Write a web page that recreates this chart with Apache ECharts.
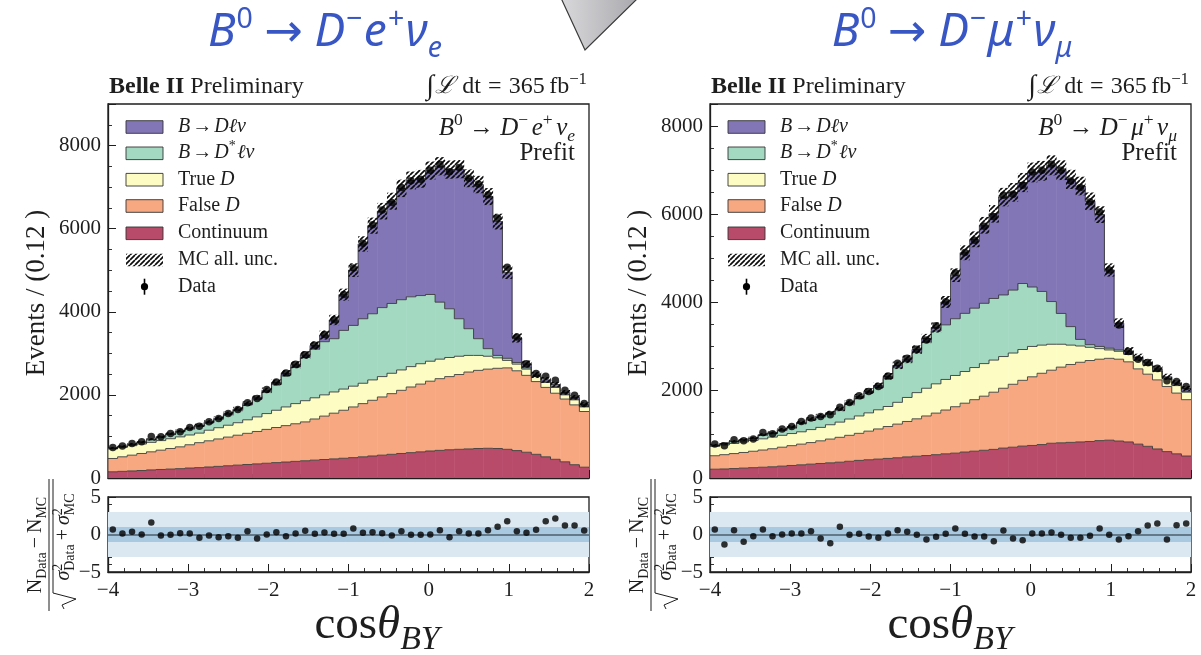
<!DOCTYPE html>
<html>
<head>
<meta charset="utf-8">
<script src="https://cdn.jsdelivr.net/npm/echarts@6/dist/echarts.min.js"></script>
<style>
  html, body { margin: 0; padding: 0; background: #fff; }
  #chart { width: 1201px; height: 655px; }
</style>
</head>
<body>
<div id="chart"></div>
<script>
// ---- binning: 50 bins of width 0.12 on cos(theta_BY) in [-4, 2] ----
const BIN_LO = -4;
const BIN_W = 0.12;
const NBIN = 50;

// ---- B0 -> D- e+ nu_e : events per bin for each component ----
const contE  = [150,160,170,180,195,205,215,225,240,250,265,280,295,310,325,340,355,370,385,400,415,430,445,460,475,490,510,530,550,570,590,610,630,650,665,680,690,700,710,715,710,690,660,620,570,510,450,390,320,260];
const falseE = [320,350,380,410,435,465,495,525,560,600,630,660,690,720,750,780,815,845,875,905,935,990,1045,1100,1155,1220,1280,1340,1400,1460,1520,1580,1630,1680,1725,1760,1800,1850,1880,1905,1930,1960,1920,1850,1750,1670,1590,1510,1440,1340];
const trueE  = [230,228,228,228,228,230,235,240,235,230,255,270,285,300,325,350,380,415,450,485,510,510,510,510,510,500,490,490,490,490,490,490,490,480,470,460,440,400,360,310,250,180,160,150,120,120,140,100,120,110];
const dstarE = [12,17,25,40,58,80,104,122,145,168,176,204,252,300,357,424,520,625,760,880,1040,1170,1280,1282,1412,1462,1552,1592,1660,1680,1690,1680,1640,1606,1372,1172,902,642,402,182,60,50,40,30,15,15,15,15,15,15];
const dlnuE  = [10,10,12,12,14,15,16,18,20,22,24,26,28,30,33,36,40,45,50,55,60,90,160,450,860,1330,1800,2120,2320,2460,2680,2800,2810,2980,3270,3350,3600,3620,3710,3660,3220,2070,590,90,25,45,55,45,45,45];
const uncE   = [25,25,27,28,30,32,34,36,38,40,42,45,48,52,56,60,66,72,78,85,92,100,110,125,145,165,185,195,200,205,210,215,215,220,220,220,220,215,210,205,190,160,110,85,75,70,65,60,57,52];
const dataE  = [736,768,832,872,1000,992,1072,1112,1216,1248,1352,1432,1552,1648,1808,1912,2128,2312,2528,2736,2968,3192,3456,3808,4416,5056,5648,6096,6448,6632,6992,7152,7192,7408,7552,7368,7472,7216,7072,6816,6256,5072,3392,2752,2512,2448,2352,2112,1992,1792];
const pullE  = [0.67,0.13,0.36,0,1.6,-0.13,-0.04,0.18,0.13,-0.44,-0.13,-0.36,-0.22,-0.44,0.44,-0.53,0,0.31,-0.22,0.13,0.49,0.09,0.27,0.09,0.09,0.8,0.22,0.31,0.18,-0.13,0.44,-0.04,-0.04,0,0.58,-0.36,0.44,0.13,0.13,0.58,1.02,1.78,0.44,0.22,0.62,1.78,2.13,1.2,1.2,0.53];

// ---- B0 -> D- mu+ nu_mu : events per bin for each component ----
const contM  = [200,205,215,225,235,245,255,270,285,300,315,330,345,360,380,400,415,430,445,460,480,495,510,530,550,565,590,610,630,650,680,700,725,740,760,790,800,810,820,830,850,860,840,820,770,720,660,600,550,500];
const falseM = [306,325,340,355,373,391,410,430,450,470,490,515,540,565,590,615,650,685,725,765,805,850,900,945,995,1055,1110,1170,1230,1300,1360,1430,1495,1560,1620,1660,1720,1770,1810,1840,1850,1860,1860,1820,1710,1640,1570,1480,1380,1280];
const trueM  = [212,220,230,240,247,254,265,270,275,280,295,305,325,345,370,395,415,435,455,495,545,595,630,665,695,710,720,730,740,730,720,710,700,690,640,590,520,440,370,300,240,190,180,170,200,200,190,170,170,170];
const dstarM = [22,24,40,40,40,80,80,112,135,190,216,234,242,270,337,404,455,505,635,785,810,910,1050,1200,1240,1290,1322,1350,1370,1400,1400,1430,1500,1350,1220,970,700,420,150,60,50,40,30,20,20,20,20,20,20,20];
const dlnuM  = [10,10,12,12,14,15,16,18,20,22,24,26,28,30,33,36,40,45,50,55,60,70,80,80,521,990,1378,1565,1773,1924,2224,2222,2295,2604,2742,3096,3256,3347,3486,3259,2996,1778,608,55,40,40,40,30,40,60];
const uncM   = [25,26,28,29,30,33,34,37,39,42,44,47,49,52,57,62,66,70,77,85,90,97,105,115,135,155,170,180,190,200,210,212,218,225,225,228,225,218,212,200,190,150,110,90,85,80,75,70,66,62];
const dataM  = [771,733,869,847,885,1036,1005,1111,1172,1285,1361,1399,1440,1610,1716,1867,1966,2079,2321,2608,2722,2926,3137,3462,4007,4665,5126,5405,5723,5935,6426,6449,6653,6955,6993,7129,6993,6751,6600,6275,6048,4725,3478,2873,2699,2623,2495,2208,2193,2079];
const pullM  = [0.67,-1.33,0.58,-0.98,-0.22,0.67,-0.22,0,0.13,0.13,0.44,-0.53,-1.16,1.02,-0.04,0.09,-0.27,-0.44,0.13,0.58,0.36,-0.04,-0.67,-0.31,0.09,0.8,0.09,-0.27,-0.27,-0.89,0.53,-0.53,-0.76,0.13,0.13,0.27,-0.04,-0.44,-0.44,-0.18,0.8,-0.04,-0.67,-0.22,0.44,1.2,1.47,-0.67,1.24,1.47];

// ---- axis ranges and ticks ----
const X_MIN = -4, X_MAX = 2;
const Y_MAX_E = 9000, Y_MAX_M = 8500;
const PULL_MIN = -5, PULL_MAX = 5;

// ---- styling ----
const COL = {
  dlnu: '#8276b7', dstar: '#a3d9c1', tru: '#fdfdc3', fals: '#f8a880', cont: '#b94b6a',
  edge: '#3b3b3b', ink: '#1e1e1e', title: '#3857c4'
};
const SERIF = "'Liberation Serif','DejaVu Serif',serif";
const SANS = "'Noto Sans','DejaVu Sans',sans-serif";

// hatched fill for the MC uncertainty band
function hatchPattern() {
  const n = 5;
  const c = document.createElement('canvas');
  c.width = n; c.height = n;
  const g = c.getContext('2d');
  g.strokeStyle = '#0d0d0d';
  g.lineWidth = 1.7;
  g.beginPath();
  for (let k = -1; k <= 1; k++) {
    g.moveTo(k * n, n); g.lineTo(k * n + n, 0);
  }
  g.stroke();
  return { image: c, repeat: 'repeat' };
}
const HATCH = hatchPattern();

// ---- math-like text runs built from positioned pieces ----
const mctx = document.createElement('canvas').getContext('2d');
function tw(t, size, fam, it, bd) {
  mctx.font = (it ? 'italic ' : '') + (bd ? 'bold ' : '') + size + 'px ' + fam;
  return mctx.measureText(t).width;
}
// piece: [text, flags, gapAfterEm, sizeFactor]; flags: i italic, b bold, ^ sup, _ sub, k keep x
function run(pieces, o) {
  const fam = o.family || SERIF, size = o.size;
  let w = 0; const parts = [];
  for (const pc of pieces) {
    const t = pc[0], f = pc[1] || '', gap = pc[2] || 0, sf = pc[3] || 1;
    const sup = f.includes('^'), sub = f.includes('_');
    const s = ((sup || sub) ? size * (o.scriptScale || 0.7) : size) * sf;
    const it = f.includes('i'), bd = f.includes('b');
    const ww = tw(t, s, fam, it, bd);
    const dy = sup ? -size * 0.42 : sub ? size * 0.2 : (sf > 1 ? size * (sf - 1) * 0.25 : 0);
    parts.push({ t, s, it, bd, x: w, dy });
    if (!f.includes('k')) w += ww;
    w += gap * size;
  }
  const x0 = o.align === 'right' ? o.x - w : o.align === 'center' ? o.x - w / 2 : o.x;
  return parts.map(p => ({
    type: 'text', silent: true,
    x: x0 + p.x, y: o.y + p.dy - 0.34 * p.s,
    style: {
      text: p.t, fontSize: p.s, fontFamily: fam,
      fontStyle: p.it ? 'italic' : 'normal', fontWeight: p.bd ? 'bold' : 'normal',
      fill: o.color || COL.ink, align: 'left', verticalAlign: 'middle'
    }
  }));
}

// ---- step-histogram drawing through the axis scales ----
function stepRender(params, api) {
  const x0 = api.value(0), x1 = api.value(1), lo = api.value(2), hi = api.value(3), prev = api.value(4);
  const a = api.coord([x0, hi]);
  const b = api.coord([x1, lo]);
  const p = api.coord([x0, prev]);
  return {
    type: 'group',
    children: [
      { type: 'rect', shape: { x: a[0], y: a[1], width: b[0] - a[0] + 0.5, height: b[1] - a[1] },
        style: { fill: api.visual('color') } },
      { type: 'polyline', z2: 20, shape: { points: [[p[0], p[1]], [a[0], a[1]], [b[0], a[1]]] },
        style: { stroke: COL.edge, lineWidth: 0.9, fill: null } }
    ]
  };
}
function bandRender(params, api) {
  const a = api.coord([api.value(0), api.value(3)]);
  const b = api.coord([api.value(1), api.value(2)]);
  return { type: 'rect', shape: { x: a[0], y: a[1], width: b[0] - a[0] + 0.3, height: b[1] - a[1] },
           style: { fill: HATCH } };
}

const binLo = i => BIN_LO + i * BIN_W;
const binHi = i => BIN_LO + (i + 1) * BIN_W;
const binMid = i => BIN_LO + (i + 0.5) * BIN_W;

function panelSeries(p, gMain, gPull) {
  const comps = [
    { vals: p.cont, color: COL.cont },
    { vals: p.fals, color: COL.fals },
    { vals: p.tru, color: COL.tru },
    { vals: p.dstar, color: COL.dstar },
    { vals: p.dlnu, color: COL.dlnu }
  ];
  let base = new Array(NBIN).fill(0);
  const out = [];
  comps.forEach(c => {
    const tops = base.map((b, i) => b + c.vals[i]);
    const data = tops.map((t, i) => [binLo(i), binHi(i), base[i], t, i ? tops[i - 1] : base[0]]);
    out.push({ type: 'custom', xAxisIndex: gMain, yAxisIndex: gMain, renderItem: stepRender,
               itemStyle: { color: c.color }, data, encode: { x: [0, 1], y: [2, 3] },
               z: 2, silent: true, clip: true });
    base = tops;
  });
  out.push({ type: 'custom', xAxisIndex: gMain, yAxisIndex: gMain, renderItem: bandRender,
             data: base.map((t, i) => [binLo(i), binHi(i), t - p.unc[i], t + p.unc[i]]),
             encode: { x: [0, 1], y: [2, 3] }, z: 3, silent: true, clip: true });
  out.push({ type: 'scatter', xAxisIndex: gMain, yAxisIndex: gMain, symbolSize: 7.5,
             itemStyle: { color: '#000' }, z: 5, silent: true,
             data: p.data.map((v, i) => [binMid(i), v]) });
  out.push({ type: 'scatter', xAxisIndex: gPull, yAxisIndex: gPull, symbolSize: 6.5,
             itemStyle: { color: '#000' }, z: 5, silent: true,
             data: p.pull.map((v, i) => [binMid(i), v]),
             markArea: { silent: true, data: [
               [{ yAxis: -3, itemStyle: { color: '#dce8f1' } }, { yAxis: 3 }],
               [{ yAxis: -1, itemStyle: { color: '#a9c9e0' } }, { yAxis: 1 }] ] },
             markLine: { silent: true, symbol: 'none', label: { show: false },
               lineStyle: { color: '#4d5e6b', width: 1.6, type: 'solid' },
               data: [{ yAxis: 0 }] } });
  return out;
}

const minus = v => String(v).replace('-', '\u2212');
function xAxisCfg(grid, labels) {
  return {
    type: 'value', gridIndex: grid, min: X_MIN, max: X_MAX, interval: 1,
    axisLine: { onZero: false, lineStyle: { color: COL.ink, width: 1.3 } },
    axisTick: { inside: true, length: 8, lineStyle: { color: COL.ink, width: 1 } },
    minorTick: { show: true, splitNumber: 5, length: 4, lineStyle: { color: COL.ink, width: 0.9 } },
    splitLine: { show: false },
    axisLabel: { show: labels, color: COL.ink, fontFamily: SERIF, fontSize: 21, margin: 8, formatter: minus }
  };
}
function yAxisCfg(grid, min, max, interval, minorSplit) {
  return {
    type: 'value', gridIndex: grid, min, max, interval,
    axisLine: { onZero: false, lineStyle: { color: COL.ink, width: 1.3 } },
    axisTick: { inside: true, length: 8, lineStyle: { color: COL.ink, width: 1 } },
    minorTick: { show: true, splitNumber: minorSplit, length: 4, lineStyle: { color: COL.ink, width: 0.9 } },
    splitLine: { show: false },
    axisLabel: { color: COL.ink, fontFamily: SERIF, fontSize: 21, margin: 7, showMaxLabel: max % interval === 0, formatter: minus }
  };
}

const PANEL_W = 481;
const LEFTS = [108, 710];
const MAIN_TOP = 104, MAIN_H = 374, PULL_TOP = 497, PULL_H = 75;
const gridStyle = { show: true, borderColor: COL.ink, borderWidth: 1.3, backgroundColor: 'transparent' };

// ---- annotation text per panel ----
function panelText(x0, chan) {
  const els = [];
  const right = x0 + PANEL_W;
  els.push(...run([['Belle II', 'b', 0.25], ['Preliminary', '']], { x: x0 + 1, y: 95, size: 24 }));
  els.push(...run([['\u222B', '', 0.05, 1.15], ['\u2112', 'i', 0.3], ['dt', '', 0.3], ['=', '', 0.3], ['365', '', 0.18], ['fb', ''], ['\u22121', '^']],
                  { x: right - 2, y: 95, size: 24, align: 'right' }));
  // decay label inside the frame
  const lep = chan === 'e'
    ? [['e', 'i'], ['+', '^', 0.14], ['\u03BD', 'i'], ['e', '_i']]
    : [['\u03BC', 'i'], ['+', '^', 0.14], ['\u03BD', 'i'], ['\u03BC', '_i']];
  els.push(...run([['B', 'i'], ['0', '^', 0.25], ['\u2192', '', 0.25], ['D', 'i'], ['\u2212', '^', 0.14]].concat(lep),
                  { x: right - 14, y: 137, size: 25, align: 'right' }));
  els.push(...run([['Prefit', '']], { x: right - 14, y: 162, size: 25, align: 'right' }));

  // legend
  const rows = [127, 153.3, 179.7, 206, 233.3, 260, 286.7];
  const px = x0 + 18, pw = 37, ph = 12.6, tx = x0 + 70;
  const fills = [COL.dlnu, COL.dstar, COL.tru, COL.fals, COL.cont];
  fills.forEach((f, k) => els.push({ type: 'rect', silent: true, shape: { x: px, y: rows[k] - ph / 2, width: pw, height: ph },
                                     style: { fill: f, stroke: '#333', lineWidth: 0.9 } }));
  els.push({ type: 'rect', silent: true, shape: { x: px, y: rows[5] - ph / 2, width: pw, height: ph }, style: { fill: HATCH } });
  els.push({ type: 'line', silent: true, shape: { x1: px + 18.5, y1: rows[6] - 8, x2: px + 18.5, y2: rows[6] + 8 }, style: { stroke: '#000', lineWidth: 1.6 } });
  els.push({ type: 'circle', silent: true, shape: { cx: px + 18.5, cy: rows[6], r: 3.6 }, style: { fill: '#000' } });
  const ls = { x: tx, size: 20 };
  const lab = [
    [['B', 'i', 0.1], ['\u2192', '', 0.1], ['D', 'i'], ['\u2113', 'i'], ['\u03BD', 'i']],
    [['B', 'i', 0.1], ['\u2192', '', 0.1], ['D', 'i'], ['*', '^', 0.08], ['\u2113', 'i'], ['\u03BD', 'i']],
    [['True ', ''], ['D', 'i']],
    [['False ', ''], ['D', 'i']],
    [['Continuum', '']],
    [['MC all. unc.', '']],
    [['Data', '']]
  ];
  lab.forEach((l, k) => els.push(...run(l, Object.assign({ y: rows[k] + 6.5 }, ls))));

  // y-axis title of the main frame
  els.push({ type: 'text', silent: true, x: x0 - 71, y: 293, rotation: Math.PI / 2,
             style: { text: 'Events / (0.12 )', fontFamily: SERIF, fontSize: 27, fill: COL.ink, align: 'center', verticalAlign: 'middle' } });

  // pull-axis title as a rotated fraction
  const fs = 20;
  const num = run([['N', ''], ['Data', '_', 0.2], ['\u2212', '', 0.2], ['N', ''], ['MC', '_']], { x: 0, y: -6, size: fs, align: 'center' });
  const den = run([['\u03C3', 'i'], ['2', '^k'], ['Data', '_', 0.2], ['+', '', 0.2], ['\u03C3', 'i'], ['2', '^k'], ['MC', '_']],
                  { x: 8, y: 22, size: fs, align: 'center' });
  const frac = [].concat(num, den);
  frac.push({ type: 'line', silent: true, shape: { x1: -66, y1: 0, x2: 66, y2: 0 }, style: { stroke: COL.ink, lineWidth: 1 } });
  frac.push({ type: 'polyline', silent: true, shape: { points: [[-64, 15], [-60, 13], [-54, 27], [-48, 4], [66, 4]] },
              style: { stroke: COL.ink, lineWidth: 1, fill: null } });
  els.push({ type: 'group', x: x0 - 59, y: 545, rotation: Math.PI / 2, children: frac });
  return els;
}

// ---- page-level text ----
function titleRun(chan, cx) {
  const lep = chan === 'e'
    ? [['e', 'i', 0.03], ['+', '^', 0.03], ['\u03BD', 'i'], ['e', '_i']]
    : [['\u03BC', 'i', 0.03], ['+', '^', 0.03], ['\u03BD', 'i'], ['\u03BC', '_i']];
  return run([['B', 'i', 0.02], ['0', '^', 0.25], ['\u2192', '', 0.25], ['D', 'i', 0.02], ['\u2212', '^', 0.03]].concat(lep),
             { x: cx, y: 49, size: 46, family: SANS, color: COL.title, align: 'center', scriptScale: 0.62 });
}
function xTitle(cx) {
  return run([['cos', ''], ['\u03B8', 'i'], ['BY', '_i']], { x: cx, y: 642, size: 47, align: 'center', scriptScale: 0.72 });
}

const graphics = [];
graphics.push({ type: 'polygon', silent: true, shape: { points: [[561, -2], [638, -2], [585, 50]] },
  style: { fill: new echarts.graphic.LinearGradient(0, 0, 1, 0, [{ offset: 0, color: '#d9d9dc' }, { offset: 1, color: '#a9a9ad' }]),
           stroke: '#3a3a3a', lineWidth: 1.2 } });
graphics.push(...titleRun('e', 325), ...titleRun('m', 952));
graphics.push(...panelText(LEFTS[0], 'e'), ...panelText(LEFTS[1], 'm'));
graphics.push(...xTitle(377), ...xTitle(950));

const chart = echarts.init(document.getElementById('chart'), null, { renderer: 'canvas' });
chart.setOption({
  animation: false,
  backgroundColor: '#fff',
  grid: [
    Object.assign({ left: LEFTS[0], top: MAIN_TOP, width: PANEL_W, height: MAIN_H }, gridStyle),
    Object.assign({ left: LEFTS[0], top: PULL_TOP, width: PANEL_W, height: PULL_H }, gridStyle),
    Object.assign({ left: LEFTS[1], top: MAIN_TOP, width: PANEL_W, height: MAIN_H }, gridStyle),
    Object.assign({ left: LEFTS[1], top: PULL_TOP, width: PANEL_W, height: PULL_H }, gridStyle)
  ],
  xAxis: [xAxisCfg(0, false), xAxisCfg(1, true), xAxisCfg(2, false), xAxisCfg(3, true)],
  yAxis: [
    yAxisCfg(0, 0, Y_MAX_E, 2000, 4),
    yAxisCfg(1, PULL_MIN, PULL_MAX, 5, 5),
    yAxisCfg(2, 0, Y_MAX_M, 2000, 4),
    yAxisCfg(3, PULL_MIN, PULL_MAX, 5, 5)
  ],
  series: [].concat(
    panelSeries({ cont: contE, fals: falseE, tru: trueE, dstar: dstarE, dlnu: dlnuE, unc: uncE, data: dataE, pull: pullE }, 0, 1),
    panelSeries({ cont: contM, fals: falseM, tru: trueM, dstar: dstarM, dlnu: dlnuM, unc: uncM, data: dataM, pull: pullM }, 2, 3)
  ),
  graphic: { elements: graphics }
});
</script>
</body>
</html>
